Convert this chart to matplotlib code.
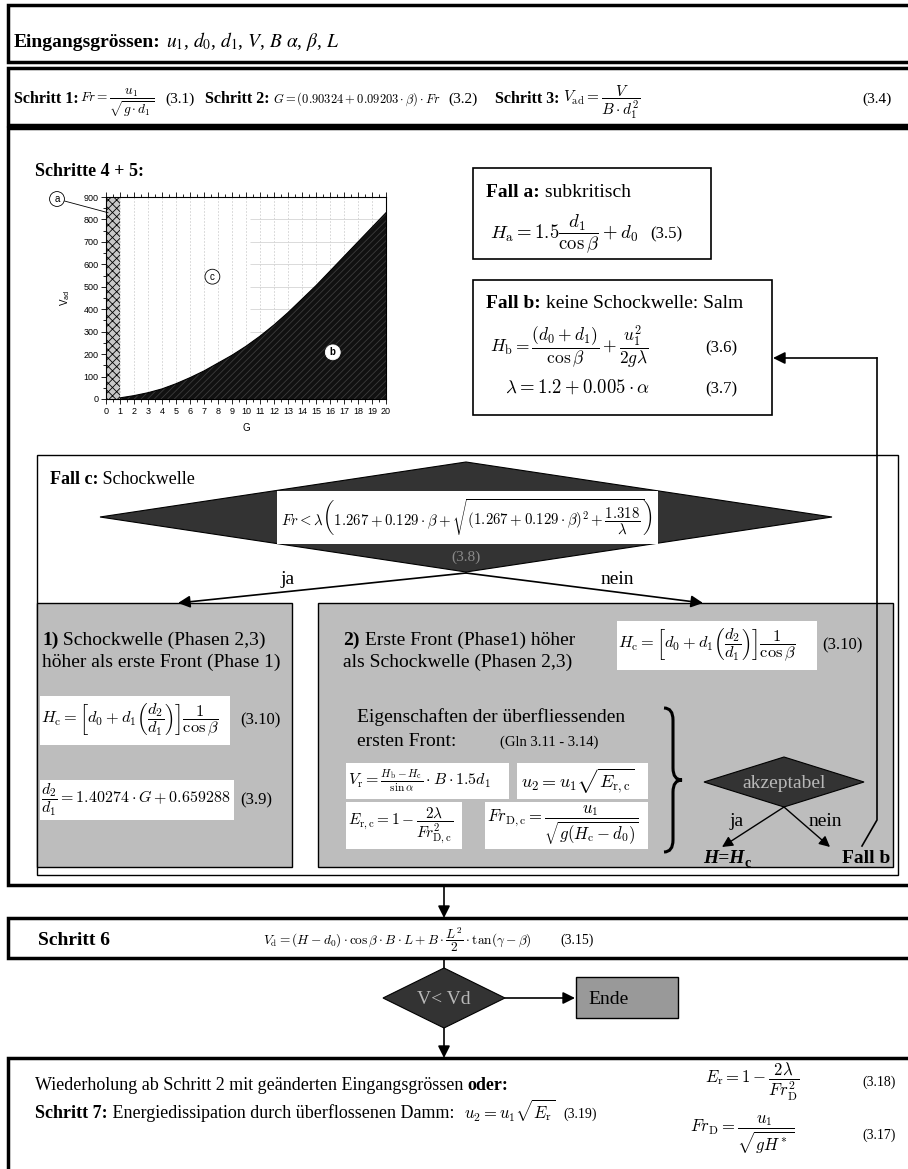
import numpy as np
import matplotlib.pyplot as plt
import matplotlib.patches as mpatches
from matplotlib.path import Path

plt.rcParams['font.family'] = ['Liberation Serif', 'DejaVu Serif']
plt.rcParams['mathtext.fontset'] = 'cm'
plt.rcParams['hatch.linewidth'] = 0.6

# small diagram "Schritte 4 + 5"
G_curve   = np.arange(1, 21)
Vad_curve = np.array([5, 15, 28, 45, 68, 95, 125, 160, 195, 235,
                      280, 330, 385, 445, 505, 570, 635, 700, 765, 830])
G_ticks   = np.arange(0, 21)
Vad_ticks = np.arange(0, 901, 100)
G_sub     = [0, 1]          # Fall a (subkritisch)
G_max     = 20
Vad_max   = 900
G_hgrid   = 10.3            # horizontal grid only right of this G

fig = plt.figure(figsize=(9.08, 11.69), dpi=100)
ax = fig.add_axes([0, 0, 1, 1])
ax.set_xlim(0, 908)
ax.set_ylim(1169, 0)
ax.axis('off')
R = fig.canvas.get_renderer()

B  = {'fontweight': 'bold'}
DK = '#333333'
GR = '#bdbdbd'


def box(x0, y0, x1, y1, lw=1.0, fc='white', ec='k', z=1):
    ax.add_patch(mpatches.Rectangle((x0, y0), x1 - x0, y1 - y0, lw=lw, fc=fc, ec=ec, zorder=z))


def diamond(cx, cy, hw, hh, fc=DK, z=2):
    ax.add_patch(mpatches.Polygon([(cx - hw, cy), (cx, cy - hh), (cx + hw, cy), (cx, cy + hh)],
                                  closed=True, fc=fc, ec='k', lw=0.8, zorder=z))


def arrow(x0, y0, x1, y1, lw=1.2, ms=18):
    ax.annotate('', xy=(x1, y1), xytext=(x0, y0),
                arrowprops=dict(arrowstyle='-|>', color='k', lw=lw, mutation_scale=ms,
                                shrinkA=0, shrinkB=0), zorder=5)


def run(x, y, parts, size=12, **kw):
    for p in parts:
        if isinstance(p, (int, float)):
            x += p
            continue
        s, opts = p if isinstance(p, tuple) else (p, {})
        opts = dict(opts)
        dy = opts.pop('dy', 0)
        o = dict(fontsize=size, va='baseline', ha='left', zorder=6)
        o.update(kw)
        o.update(opts)
        t = ax.text(x, y + dy, s, **o)
        x += t.get_window_extent(renderer=R).width
    return x


def brace(x0, yt, yb, w):
    ym = (yt + yb) / 2
    xm = x0 + w / 2
    r = 12
    verts = [(x0, yt), (xm, yt), (xm, yt + r), (xm, ym - r), (xm, ym), (x0 + w, ym),
             (xm, ym), (xm, ym + r), (xm, yb - r), (xm, yb), (x0, yb)]
    codes = [Path.MOVETO, Path.CURVE3, Path.CURVE3, Path.LINETO, Path.CURVE3, Path.CURVE3,
             Path.CURVE3, Path.CURVE3, Path.LINETO, Path.CURVE3, Path.CURVE3]
    ax.add_patch(mpatches.PathPatch(Path(verts, codes), fc='none', ec='k', lw=2.2, zorder=6))


# ---- Eingangsgroessen
box(8, 5, 930, 62, lw=2.5)
run(14, 47, [('Eingangsgrössen:', B), 5,
             (r'$u_1$, $d_0$, $d_1$, $V$, $B$ $\alpha$, $\beta$, $L$', {'math_fontfamily': 'stix'})], size=14)

# ---- Schritt 1-3
box(8, 68, 930, 125, lw=2.5)
run(14, 103, [('Schritt 1:', B)], size=11.5)
run(80, 103, [(r'$Fr = \dfrac{u_1}{\sqrt{g\cdot d_1}}$', {'fontsize': 9.6})])
ax.text(165, 103, '(3.1)', fontsize=11, va='baseline')
run(205, 103, [('Schritt 2:', B)], size=11.5)
run(273, 103, [(r'$G = (0.90324 + 0.09203\cdot\beta)\cdot Fr$', {'fontsize': 9})])
ax.text(448, 103, '(3.2)', fontsize=11, va='baseline')
run(495, 103, [('Schritt 3:', B)], size=11.5)
run(563, 103, [(r'$V_{\mathrm{ad}} = \dfrac{V}{B\cdot d_1^2}$', {'fontsize': 11})])
ax.text(862, 103, '(3.4)', fontsize=11, va='baseline')

# ---- Schritte 4 + 5
box(8, 128, 930, 885, lw=2.5)
run(35, 176, [('Schritte 4 + 5:', B)], size=13)

cax = fig.add_axes([106 / 908, (1169 - 399) / 1169, 280 / 908, 202 / 1169])
cax.set_xlim(0, G_max)
cax.set_ylim(0, Vad_max)
for g in G_ticks[1:]:
    cax.axvline(g, color='#cfcfcf', lw=0.6, ls=(0, (2, 2)), zorder=1)
cax.hlines(Vad_ticks[1:], G_hgrid, G_max, color='#d4d4d4', lw=0.6, zorder=1)
cax.fill_between(G_sub, 0, Vad_max, facecolor='#c8c8c8', edgecolor='k', hatch='xxxx', lw=0, zorder=2)
cax.fill_between(G_curve, 0, Vad_curve, facecolor='#111111', edgecolor='#3c3c3c', hatch='/////', lw=0, zorder=2)
cax.plot(G_curve, Vad_curve, color='k', lw=0.8, zorder=3)
cax.set_xticks(G_ticks)
cax.set_xticks(G_ticks[:-1] + 0.5, minor=True)
cax.set_yticks(Vad_ticks)
cax.set_yticks(Vad_ticks[:-1] + 50, minor=True)
cax.tick_params(which='both', direction='out', top=True, right=False, labelsize=6.5,
                width=0.6, labelfontfamily='Liberation Sans', pad=2)
cax.tick_params(which='major', length=3.5)
cax.tick_params(which='minor', length=2)
for s in cax.spines.values():
    s.set_linewidth(0.8)
cax.set_ylabel(r'V$_{\mathrm{ad}}$', fontsize=7, family='Liberation Sans', math_fontfamily='dejavusans',
               labelpad=8)
cax.set_xlabel('G', fontsize=7, family='Liberation Sans', labelpad=5)
cax.text(7.6, 545, 'c', ha='center', va='center', fontsize=7, family='Liberation Sans', zorder=5,
         bbox=dict(boxstyle='circle,pad=0.25', fc='white', ec='k', lw=0.6))
cax.text(16.2, 208, 'b', ha='center', va='center', fontsize=7, family='Liberation Sans', color='k',
         fontweight='bold', zorder=5, bbox=dict(boxstyle='circle,pad=0.25', fc='white', ec='white', lw=0.6))
cax.annotate('a', xy=(0.15, 830), xytext=(57, 199), textcoords=ax.transData, ha='center', va='center',
             fontsize=7, family='Liberation Sans', annotation_clip=False,
             bbox=dict(boxstyle='circle,pad=0.25', fc='white', ec='k', lw=0.6),
             arrowprops=dict(arrowstyle='-', lw=0.6, color='k', shrinkA=0, shrinkB=0))

# ---- Fall a / Fall b
box(473, 168, 711, 259, lw=1.2)
run(486, 197, [('Fall a:', B), ' subkritisch'], size=14)
run(490, 238, [(r'$H_{\mathrm{a}} = 1.5\dfrac{d_1}{\cos\beta} + d_0$', {'fontsize': 13.5}), 12,
               ('(3.5)', {'fontsize': 12})])

box(473, 280, 772, 415, lw=1.2)
run(486, 308, [('Fall b:', B), ' keine Schockwelle: Salm'], size=14)
run(490, 352, [(r'$H_{\mathrm{b}} = \dfrac{(d_0 + d_1)}{\cos\beta} + \dfrac{u_1^2}{2g\lambda}$', {'fontsize': 12.5})])
ax.text(705, 352, '(3.6)', fontsize=12, va='baseline')
run(505, 393, [(r'$\lambda = 1.2 + 0.005\cdot\alpha$', {'fontsize': 13.5})])
ax.text(705, 393, '(3.7)', fontsize=12, va='baseline')

ax.plot([862, 877, 877], [846, 820, 358], color='k', lw=1.2, zorder=5)
arrow(877, 358, 773, 358)

# ---- Fall c
box(37, 455, 898, 875, lw=1.0)
run(50, 484, [('Fall c:', B), ' Schockwelle'], size=13)
diamond(466, 517, 366, 55)
box(277, 491, 658, 544, lw=0, fc='white', z=3)
ax.text(467, 518, r'$Fr < \lambda\left(1.267 + 0.129\cdot\beta + \sqrt{(1.267+0.129\cdot\beta)^2 + \dfrac{1.318}{\lambda}}\right)$',
        fontsize=10.7, ha='center', va='center', zorder=6)
ax.text(466, 557, '(3.8)', fontsize=11, ha='center', va='center', color='#8a8a8a', zorder=6)
arrow(466, 573, 178, 603)
arrow(466, 573, 703, 603)
ax.text(288, 580, 'ja', fontsize=14, ha='center', va='center')
ax.text(617, 580, 'nein', fontsize=14, ha='center', va='center')

HC = r'$H_{\mathrm{c}} = \left[d_0 + d_1\left(\dfrac{d_2}{d_1}\right)\right]\dfrac{1}{\cos\beta}$'

# 1)
box(37, 603, 292, 867, lw=1.0, fc=GR)
run(42, 645, [('1)', B), ' Schockwelle (Phasen 2,3)'], size=14)
run(42, 667, ['höher als erste Front (Phase 1)'], size=14)
box(40, 696, 230, 745, lw=0, fc='white', z=3)
ax.text(41, 720, HC, fontsize=11.8, va='center', zorder=6)
ax.text(240, 720, '(3.10)', fontsize=12, va='center')
box(40, 780, 234, 820, lw=0, fc='white', z=3)
ax.text(41, 800, r'$\dfrac{d_2}{d_1} = 1.40274\cdot G + 0.659288$', fontsize=11.5, va='center', zorder=6)
ax.text(240, 800, '(3.9)', fontsize=12, va='center')

# 2)
box(318, 603, 893, 867, lw=1.0, fc=GR)
run(343, 645, [('2)', B), ' Erste Front (Phase1) höher'], size=14)
run(343, 667, ['als Schockwelle (Phasen 2,3)'], size=14)
box(617, 621, 817, 670, lw=0, fc='white', z=3)
ax.text(618, 645, HC, fontsize=11.8, va='center', zorder=6)
ax.text(822, 645, '(3.10)', fontsize=12, va='center')
ax.text(357, 722, 'Eigenschaften der überfliessenden', fontsize=14, va='baseline')
ax.text(357, 746, 'ersten Front:', fontsize=14, va='baseline')
ax.text(500, 746, '(Gln 3.11 - 3.14)', fontsize=10.5, va='baseline')
box(346, 763, 509, 799, lw=0, fc='white', z=3)
ax.text(348, 781, r'$V_{\mathrm{r}} = \frac{H_{\mathrm{b}} - H_{\mathrm{c}}}{\sin\alpha}\cdot B\cdot 1.5d_1$',
        fontsize=11.5, va='center', zorder=6)
box(517, 763, 648, 799, lw=0, fc='white', z=3)
ax.text(521, 781, r'$u_2 = u_1\sqrt{E_{\mathrm{r,c}}}$', fontsize=13, va='center', zorder=6)
box(346, 802, 462, 849, lw=0, fc='white', z=3)
ax.text(348, 825, r'$E_{\mathrm{r,c}} = 1 - \dfrac{2\lambda}{Fr_{\mathrm{D,c}}^2}$', fontsize=11, va='center', zorder=6)
box(485, 802, 648, 849, lw=0, fc='white', z=3)
ax.text(487, 825, r'$Fr_{\mathrm{D,c}} = \dfrac{u_1}{\sqrt{g(H_{\mathrm{c}} - d_0)}}$', fontsize=12, va='center', zorder=6)
brace(664, 708, 852, 18)

diamond(784, 782, 80, 25)
ax.text(784, 784, 'akzeptabel', fontsize=14, ha='center', va='center', color='#b8b8b8', zorder=6)
arrow(784, 807, 722, 847, lw=1.0, ms=16)
arrow(784, 807, 830, 847, lw=1.0, ms=16)
ax.text(737, 822, 'ja', fontsize=14, ha='center', va='center')
ax.text(825, 822, 'nein', fontsize=14, ha='center', va='center')
run(703, 863, [('H=H', {'fontweight': 'bold', 'style': 'italic'}), ('c', {'fontweight': 'bold', 'fontsize': 10, 'dy': 4})], size=14)
run(842, 863, [('Fall b', B)], size=14)

# ---- Schritt 6
arrow(444, 885, 444, 918)
box(8, 918, 930, 958, lw=2.5)
run(38, 945, [('Schritt 6', B)], size=14)
run(263, 944, [(r'$V_{\mathrm{d}} = (H - d_0)\cdot\cos\beta\cdot B\cdot L + B\cdot\dfrac{L^2}{2}\cdot\tan(\gamma - \beta)$', {'fontsize': 9.6})])
ax.text(560, 944, '(3.15)', fontsize=10, va='baseline')
ax.plot([444, 444], [958, 968], color='k', lw=1.2)
diamond(444, 998, 61, 30)
ax.text(444, 999, 'V< Vd', fontsize=14, ha='center', va='center', color='#b8b8b8', zorder=6)
arrow(505, 998, 575, 998)
box(576, 977, 678, 1018, lw=1.0, fc='#999999')
ax.text(588, 1004, 'Ende', fontsize=14, va='baseline')
arrow(444, 1028, 444, 1058)

# ---- Schritt 7
box(8, 1058, 930, 1200, lw=2.5)
run(35, 1090, ['Wiederholung ab Schritt 2 mit geänderten Eingangsgrössen ', ('oder:', B)], size=13)
run(35, 1118, [('Schritt 7:', B), ' Energiedissipation durch überflossenen Damm:', 10,
               (r'$u_2 = u_1\sqrt{E_{\mathrm{r}}}$', {'fontsize': 12}), 8, ('(3.19)', {'fontsize': 10})], size=13)
ax.text(705, 1082, r'$E_{\mathrm{r}} = 1 - \dfrac{2\lambda}{Fr_{\mathrm{D}}^2}$', fontsize=12, va='center')
ax.text(862, 1082, '(3.18)', fontsize=10, va='center')
ax.text(690, 1135, r'$Fr_{\mathrm{D}} = \dfrac{u_1}{\sqrt{gH^*}}$', fontsize=12, va='center')
ax.text(862, 1135, '(3.17)', fontsize=10, va='center')

fig.savefig('out.png', dpi=100)
